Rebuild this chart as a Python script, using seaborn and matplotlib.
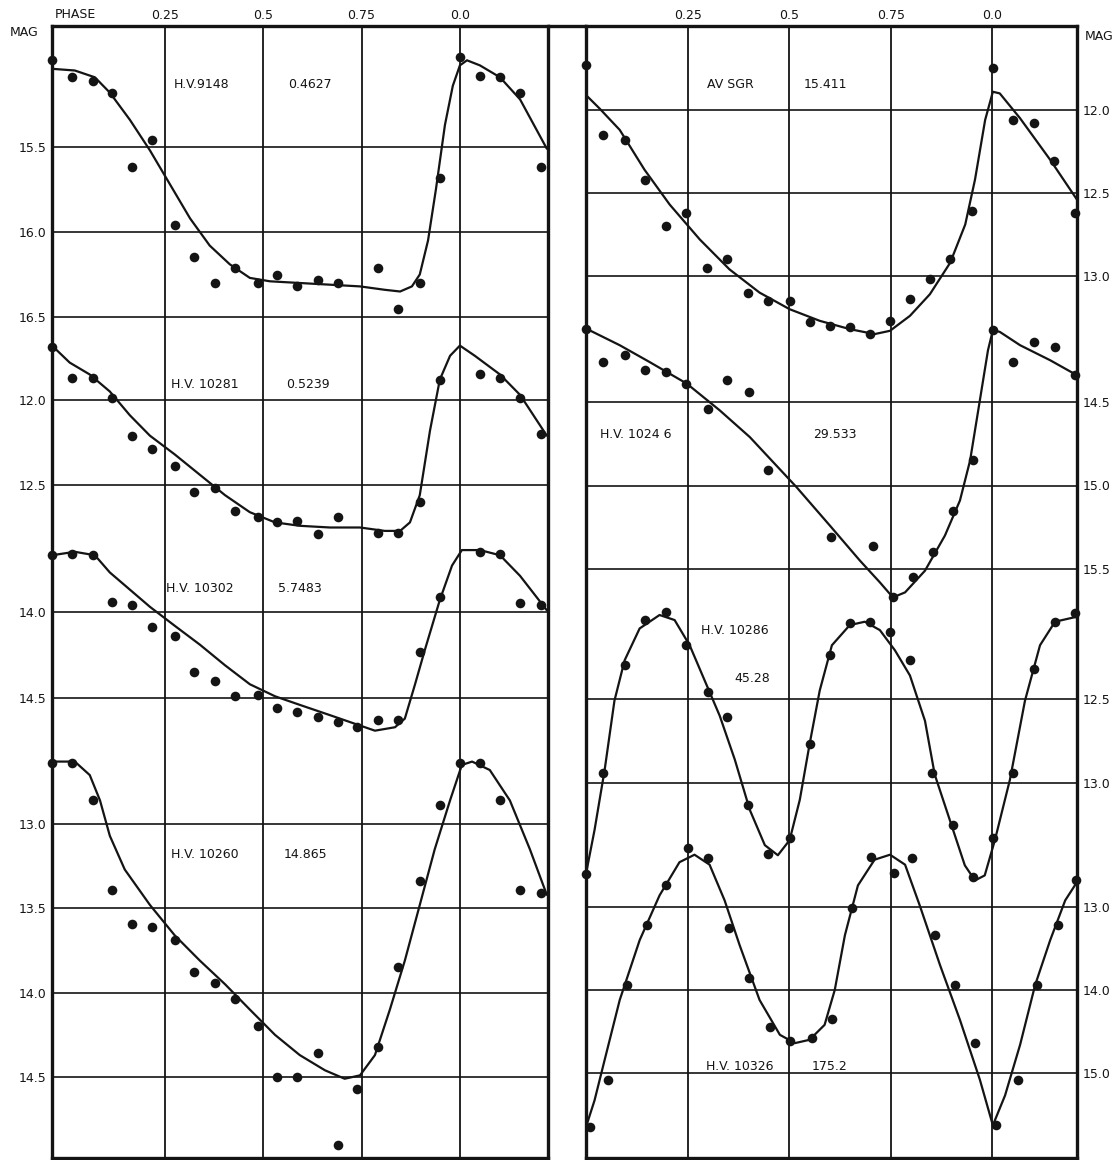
import matplotlib
matplotlib.use("Agg")
import matplotlib.pyplot as plt
import seaborn as sns
from matplotlib.lines import Line2D

# CANVAS (pixels of the original plate)
W, H = 1119, 1160
TOP, BOTTOM = 26, 1158
INK = "#141414"

sns.set_theme(style="white")
plt.rcParams['font.family'] = ['DejaVu Sans']

PHASE_TICKS = [0.25, 0.5, 0.75, 1.0]
PHASE_LABELS = ["0.25", "0.5", "0.75", "0.0"]

# ---------------- LEFT PANEL ----------------
# H.V. 9148  P = 0.4627
HV9148_DOT_PHASE = [-0.037, 0.013, 0.067, 0.115, 0.166, 0.217, 0.275, 0.324, 0.377, 0.428, 0.486, 0.535,
                    0.586, 0.639, 0.690, 0.792, 0.842, 0.898, 0.949, 1.0, 1.051, 1.102, 1.153, 1.206]
HV9148_DOT_MAG = [14.99, 15.09, 15.11, 15.18, 15.62, 15.46, 15.96, 16.15, 16.30, 16.21, 16.30, 16.25,
                  16.32, 16.28, 16.30, 16.21, 16.45, 16.30, 15.68, 14.97, 15.08, 15.09, 15.18, 15.62]
HV9148_CURVE_PHASE = [-0.037, 0.021, 0.072, 0.110, 0.161, 0.212, 0.263, 0.314, 0.364, 0.415, 0.466, 0.517,
                      0.593, 0.670, 0.746, 0.809, 0.848, 0.878, 0.898, 0.919, 0.939, 0.962, 0.982, 1.0,
                      1.018, 1.051, 1.102, 1.153, 1.221]
HV9148_CURVE_MAG = [15.04, 15.05, 15.09, 15.18, 15.34, 15.52, 15.72, 15.92, 16.08, 16.19, 16.27, 16.29,
                    16.30, 16.31, 16.32, 16.34, 16.35, 16.32, 16.25, 16.05, 15.75, 15.37, 15.14, 15.02,
                    14.99, 15.02, 15.09, 15.22, 15.51]

# H.V. 10281  P = 0.5239
HV10281_DOT_PHASE = [-0.037, 0.013, 0.067, 0.115, 0.166, 0.217, 0.275, 0.324, 0.377, 0.428, 0.486, 0.535,
                     0.586, 0.639, 0.690, 0.792, 0.842, 0.898, 0.949, 1.051, 1.102, 1.153, 1.206]
HV10281_DOT_MAG = [11.69, 11.87, 11.87, 11.99, 12.21, 12.29, 12.39, 12.54, 12.52, 12.65, 12.69, 12.72,
                   12.71, 12.79, 12.69, 12.78, 12.78, 12.60, 11.88, 11.85, 11.87, 11.99, 12.20]
HV10281_CURVE_PHASE = [-0.037, 0.008, 0.059, 0.110, 0.161, 0.212, 0.275, 0.339, 0.403, 0.466, 0.530, 0.593,
                       0.670, 0.746, 0.809, 0.848, 0.873, 0.898, 0.924, 0.949, 0.975, 1.0, 1.038, 1.102,
                       1.153, 1.221]
HV10281_CURVE_MAG = [11.68, 11.78, 11.85, 11.95, 12.09, 12.21, 12.32, 12.44, 12.56, 12.66, 12.72, 12.74,
                     12.75, 12.75, 12.77, 12.77, 12.72, 12.56, 12.18, 11.88, 11.74, 11.68, 11.74, 11.85,
                     11.97, 12.21]

# H.V. 10302  P = 5.7483
HV10302_DOT_PHASE = [-0.037, 0.013, 0.067, 0.115, 0.166, 0.217, 0.275, 0.324, 0.377, 0.428, 0.486, 0.535,
                     0.586, 0.639, 0.690, 0.738, 0.792, 0.842, 0.898, 0.949, 1.051, 1.102, 1.153, 1.206]
HV10302_DOT_MAG = [13.67, 13.66, 13.67, 13.94, 13.96, 14.09, 14.14, 14.35, 14.40, 14.49, 14.48, 14.56,
                   14.58, 14.61, 14.64, 14.67, 14.63, 14.63, 14.23, 13.91, 13.65, 13.66, 13.95, 13.96]
HV10302_CURVE_PHASE = [-0.037, 0.021, 0.072, 0.110, 0.161, 0.212, 0.275, 0.339, 0.403, 0.466, 0.530, 0.593,
                       0.670, 0.746, 0.784, 0.835, 0.860, 0.886, 0.911, 0.949, 0.980, 1.005, 1.051, 1.102,
                       1.153, 1.221]
HV10302_CURVE_MAG = [13.67, 13.65, 13.67, 13.77, 13.87, 13.97, 14.08, 14.19, 14.31, 14.42, 14.49, 14.54,
                     14.60, 14.66, 14.69, 14.67, 14.62, 14.42, 14.22, 13.93, 13.73, 13.64, 13.64, 13.67,
                     13.79, 13.99]

# H.V. 10260  P = 14.865
HV10260_DOT_PHASE = [-0.037, 0.013, 0.067, 0.115, 0.166, 0.217, 0.275, 0.324, 0.377, 0.428, 0.486, 0.535,
                     0.586, 0.639, 0.690, 0.738, 0.792, 0.842, 0.898, 0.949, 1.0, 1.051, 1.102, 1.153, 1.206]
HV10260_DOT_MAG = [12.64, 12.64, 12.86, 13.39, 13.59, 13.61, 13.69, 13.88, 13.94, 14.04, 14.20, 14.50,
                   14.50, 14.36, 14.90, 14.57, 14.32, 13.85, 13.34, 12.89, 12.64, 12.64, 12.86, 13.39, 13.41]
HV10260_CURVE_PHASE = [-0.037, 0.021, 0.059, 0.085, 0.110, 0.148, 0.212, 0.275, 0.339, 0.403, 0.466, 0.530,
                       0.593, 0.657, 0.707, 0.746, 0.784, 0.822, 0.860, 0.898, 0.936, 0.975, 1.005, 1.031,
                       1.076, 1.127, 1.178, 1.221]
HV10260_CURVE_MAG = [12.63, 12.63, 12.71, 12.86, 13.07, 13.27, 13.48, 13.66, 13.81, 13.95, 14.10, 14.25,
                     14.37, 14.46, 14.51, 14.49, 14.37, 14.10, 13.81, 13.48, 13.15, 12.86, 12.65, 12.63,
                     12.68, 12.86, 13.15, 13.42]

# ---------------- RIGHT PANEL ----------------
# AV SGR  P = 15.411
AVSGR_DOT_PHASE = [0.0, 0.043, 0.095, 0.144, 0.196, 0.245, 0.297, 0.346, 0.398, 0.449, 0.501, 0.55,
                   0.6, 0.649, 0.698, 0.748, 0.797, 0.846, 0.896, 0.95, 1.001, 1.05, 1.102, 1.151, 1.203]
AVSGR_DOT_MAG = [11.73, 12.15, 12.18, 12.42, 12.70, 12.62, 12.95, 12.90, 13.10, 13.15, 13.15, 13.28,
                 13.30, 13.31, 13.35, 13.27, 13.14, 13.02, 12.90, 12.61, 11.75, 12.06, 12.08, 12.31, 12.62]
AVSGR_CURVE_PHASE = [0.0, 0.033, 0.083, 0.144, 0.206, 0.28, 0.353, 0.427, 0.501, 0.575, 0.649, 0.71,
                     0.748, 0.797, 0.846, 0.896, 0.933, 0.957, 0.982, 1.001, 1.018, 1.068, 1.142, 1.208]
AVSGR_CURVE_MAG = [11.91, 11.99, 12.12, 12.36, 12.57, 12.78, 12.96, 13.10, 13.20, 13.27, 13.32, 13.35,
                   13.33, 13.24, 13.11, 12.92, 12.69, 12.42, 12.06, 11.89, 11.90, 12.05, 12.30, 12.54]

# H.V. 10246  P = 29.533
HV10246_DOT_PHASE = [0.0, 0.043, 0.095, 0.144, 0.196, 0.245, 0.299, 0.346, 0.4, 0.449, 0.602, 0.706,
                     0.755, 0.804, 0.854, 0.903, 0.952, 1.001, 1.051, 1.102, 1.154, 1.203]
HV10246_DOT_MAG = [14.06, 14.26, 14.22, 14.31, 14.32, 14.39, 14.54, 14.37, 14.44, 14.91, 15.31, 15.36,
                   15.67, 15.55, 15.40, 15.15, 14.85, 14.07, 14.26, 14.14, 14.17, 14.34]
HV10246_CURVE_PHASE = [0.0, 0.083, 0.156, 0.248, 0.329, 0.403, 0.518, 0.6, 0.674, 0.723, 0.755, 0.785,
                       0.834, 0.883, 0.92, 0.945, 0.969, 0.989, 1.001, 1.018, 1.068, 1.142, 1.208]
HV10246_CURVE_MAG = [14.06, 14.16, 14.26, 14.39, 14.55, 14.71, 15.01, 15.24, 15.45, 15.58, 15.67, 15.64,
                     15.51, 15.30, 15.09, 14.85, 14.49, 14.19, 14.07, 14.08, 14.16, 14.25, 14.34]

# H.V. 10286  P = 45.28
HV10286_DOT_PHASE = [0.0, 0.043, 0.095, 0.144, 0.196, 0.245, 0.299, 0.346, 0.398, 0.449, 0.501, 0.55,
                     0.6, 0.649, 0.698, 0.748, 0.797, 0.851, 0.903, 0.952, 1.001, 1.05, 1.102, 1.154, 1.203]
HV10286_DOT_MAG = [13.54, 12.94, 12.30, 12.03, 11.98, 12.18, 12.46, 12.61, 13.13, 13.42, 13.33, 12.77,
                   12.24, 12.05, 12.04, 12.10, 12.27, 12.94, 13.25, 13.56, 13.33, 12.94, 12.32, 12.04, 11.99]
HV10286_CURVE_PHASE = [0.0, 0.021, 0.046, 0.07, 0.095, 0.132, 0.181, 0.218, 0.255, 0.292, 0.329, 0.366,
                       0.403, 0.44, 0.472, 0.501, 0.526, 0.55, 0.575, 0.605, 0.649, 0.686, 0.723, 0.76,
                       0.797, 0.834, 0.858, 0.895, 0.932, 0.957, 0.981, 1.006, 1.043, 1.08, 1.117, 1.154,
                       1.208]
HV10286_CURVE_MAG = [13.54, 13.28, 12.92, 12.51, 12.27, 12.08, 12.00, 12.03, 12.18, 12.39, 12.60, 12.86,
                     13.16, 13.37, 13.43, 13.34, 13.10, 12.77, 12.45, 12.18, 12.06, 12.04, 12.09, 12.21,
                     12.36, 12.63, 12.95, 13.22, 13.49, 13.58, 13.55, 13.34, 12.98, 12.51, 12.18, 12.04,
                     12.01]

# H.V. 10326  P = 175.2
HV10326_DOT_PHASE = [0.009, 0.055, 0.1, 0.149, 0.198, 0.25, 0.299, 0.353, 0.402, 0.452, 0.501, 0.555,
                     0.605, 0.654, 0.701, 0.758, 0.802, 0.859, 0.908, 0.957, 1.008, 1.062, 1.109, 1.161, 1.206]
HV10326_DOT_MAG = [15.65, 15.08, 13.94, 13.22, 12.74, 12.29, 12.41, 13.25, 13.86, 14.45, 14.62, 14.58,
                   14.35, 13.01, 12.40, 12.59, 12.41, 13.34, 13.94, 14.64, 15.63, 15.08, 13.94, 13.22, 12.68]
HV10326_CURVE_PHASE = [0.0, 0.021, 0.046, 0.083, 0.132, 0.181, 0.23, 0.267, 0.304, 0.341, 0.378, 0.427,
                       0.477, 0.514, 0.55, 0.587, 0.612, 0.637, 0.669, 0.71, 0.748, 0.785, 0.821, 0.871,
                       0.92, 0.969, 1.001, 1.031, 1.068, 1.105, 1.142, 1.179, 1.208]
HV10326_CURVE_MAG = [15.65, 15.33, 14.84, 14.12, 13.40, 12.86, 12.46, 12.37, 12.49, 12.92, 13.46, 14.12,
                     14.54, 14.64, 14.60, 14.42, 14.00, 13.34, 12.74, 12.43, 12.37, 12.49, 12.98, 13.70,
                     14.36, 15.08, 15.63, 15.27, 14.66, 13.94, 13.40, 12.92, 12.70]

# LAYOUT: panel frames in pixels, phase range of each frame
PANELS = {
    'left': dict(x0=52, x1=548, xlim=(-0.037, 1.224)),
    'right': dict(x0=586, x1=1077, xlim=(0.0, 1.208)),
}

# star name, period, panel, tick magnitudes, pixel row of first tick, pixels per magnitude,
# label positions (pixels)
STARS = [
    ("H.V.9148", "0.4627", 'left', [15.5, 16.0, 16.5], 147, 170, (202, 85), (310, 85),
     HV9148_DOT_PHASE, HV9148_DOT_MAG, HV9148_CURVE_PHASE, HV9148_CURVE_MAG),
    ("H.V. 10281", "0.5239", 'left', [12.0, 12.5], 400, 170, (205, 385), (308, 385),
     HV10281_DOT_PHASE, HV10281_DOT_MAG, HV10281_CURVE_PHASE, HV10281_CURVE_MAG),
    ("H.V. 10302", "5.7483", 'left', [14.0, 14.5], 612, 172, (200, 588), (300, 588),
     HV10302_DOT_PHASE, HV10302_DOT_MAG, HV10302_CURVE_PHASE, HV10302_CURVE_MAG),
    ("H.V. 10260", "14.865", 'left', [13.0, 13.5, 14.0, 14.5], 824, 168.7, (205, 855), (305, 855),
     HV10260_DOT_PHASE, HV10260_DOT_MAG, HV10260_CURVE_PHASE, HV10260_CURVE_MAG),
    ("AV SGR", "15.411", 'right', [12.0, 12.5, 13.0], 110, 166, (730, 85), (825, 85),
     AVSGR_DOT_PHASE, AVSGR_DOT_MAG, AVSGR_CURVE_PHASE, AVSGR_CURVE_MAG),
    ("H.V. 1024 6", "29.533", 'right', [14.5, 15.0, 15.5], 402, 167, (636, 434), (835, 434),
     HV10246_DOT_PHASE, HV10246_DOT_MAG, HV10246_CURVE_PHASE, HV10246_CURVE_MAG),
    ("H.V. 10286", "45.28", 'right', [12.5, 13.0], 699, 168, (735, 630), (752, 678),
     HV10286_DOT_PHASE, HV10286_DOT_MAG, HV10286_CURVE_PHASE, HV10286_CURVE_MAG),
    ("H.V. 10326", "175.2", 'right', [13.0, 14.0, 15.0], 907, 83, (740, 1067), (830, 1067),
     HV10326_DOT_PHASE, HV10326_DOT_MAG, HV10326_CURVE_PHASE, HV10326_CURVE_MAG),
]


def panel_rect(p):
    return [p['x0'] / W, 1 - BOTTOM / H, (p['x1'] - p['x0']) / W, (BOTTOM - TOP) / H]


def fig_text(fig, x, y, s, **kw):
    fig.text(x / W, 1 - y / H, s, color=INK, fontsize=9, va='center', **kw)


def draw_frame(fig, p):
    ax = fig.add_axes(panel_rect(p))
    ax.set_xlim(*p['xlim'])
    ax.set_ylim(0, 1)
    ax.set_yticks([])
    ax.xaxis.tick_top()
    ax.set_xticks(PHASE_TICKS)
    ax.set_xticklabels(PHASE_LABELS, fontsize=9, color=INK)
    ax.tick_params(axis='x', length=0, pad=3)
    for ph in PHASE_TICKS:
        ax.axvline(ph, color=INK, lw=1.3)
    for s in ax.spines.values():
        s.set_linewidth(2.4)
        s.set_color(INK)
    return ax


def draw_star(fig, p, side, star):
    name, period, _, ticks, y0, ppm, lab1, lab2, dph, dmag, cph, cmag = star
    ax = fig.add_axes(panel_rect(p))
    ax.patch.set_visible(False)
    for s in ax.spines.values():
        s.set_visible(False)
    ax.set_xlim(*p['xlim'])
    ax.set_xticks([])
    # magnitude scale of this strip, tied to the pixel rows of its tick lines
    m0 = ticks[0]
    ax.set_ylim(m0 + (BOTTOM - y0) / ppm, m0 - (y0 - TOP) / ppm)
    for m in ticks:
        ax.axhline(m, color=INK, lw=1.2)
    ax.set_yticks(ticks)
    ax.set_yticklabels([f"{m:.1f}" for m in ticks], fontsize=9, color=INK)
    if side == 'right':
        ax.yaxis.tick_right()
    ax.tick_params(axis='y', length=0, pad=4)

    sns.lineplot(x=cph, y=cmag, ax=ax, color=INK, lw=1.6, sort=False)
    sns.scatterplot(x=dph, y=dmag, ax=ax, color=INK, s=48, linewidth=0, zorder=4, clip_on=False)
    ax.set_xlabel("")
    ax.set_ylabel("")

    fig_text(fig, *lab1, name, ha='center')
    fig_text(fig, *lab2, period, ha='center')


fig = plt.figure(figsize=(W / 100, H / 100), dpi=100)
fig.patch.set_facecolor("white")

for side in ('left', 'right'):
    draw_frame(fig, PANELS[side])
for star in STARS:
    draw_star(fig, PANELS[star[2]], star[2], star)

# top rule spans the gap between both frames
fig.add_artist(Line2D([PANELS['left']['x1'] / W, PANELS['right']['x0'] / W],
                      [1 - TOP / H, 1 - TOP / H], color=INK, lw=2.4))

fig_text(fig, 75, 14, "PHASE", ha='center')
fig_text(fig, 24, 32, "MAG", ha='center')
fig_text(fig, 1099, 37, "MAG", ha='center')

fig.savefig("out.png", dpi=100)
